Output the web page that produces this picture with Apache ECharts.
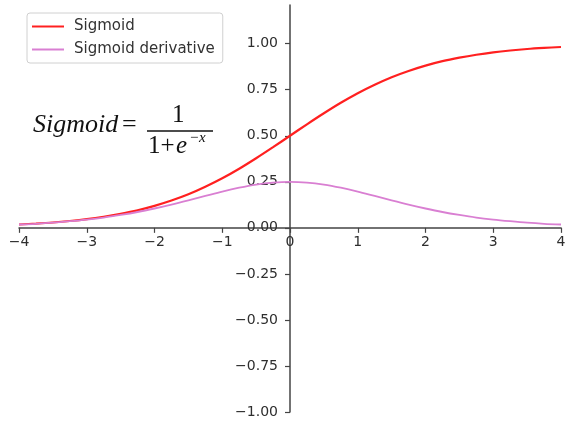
<!DOCTYPE html>
<html>
<head>
<meta charset="utf-8">
<script src="https://cdn.jsdelivr.net/npm/echarts@6/dist/echarts.min.js"></script>
<style>html,body{margin:0;padding:0;background:#fff;}#c{width:565px;height:422px;}</style>
</head>
<body>
<div id="c"></div>
<script>
const xValues = [-4,-3.75,-3.5,-3.25,-3,-2.75,-2.5,-2.25,-2,-1.75,-1.5,-1.25,-1,-0.75,-0.5,-0.25,0,0.25,0.5,0.75,1,1.25,1.5,1.75,2,2.25,2.5,2.75,3,3.25,3.5,3.75,4];
const sigmoidValues = [0.018,0.023,0.029,0.037,0.047,0.060,0.076,0.095,0.119,0.148,0.182,0.223,0.269,0.321,0.378,0.438,0.5,0.562,0.622,0.679,0.731,0.777,0.818,0.852,0.881,0.905,0.924,0.940,0.953,0.963,0.971,0.977,0.982];
const derivativeValues = [0.018,0.022,0.028,0.036,0.045,0.056,0.070,0.086,0.105,0.126,0.149,0.173,0.197,0.218,0.235,0.246,0.25,0.246,0.235,0.218,0.197,0.173,0.149,0.126,0.105,0.086,0.070,0.056,0.045,0.036,0.028,0.022,0.018];
const xTicks = [-4,-3,-2,-1,0,1,2,3,4];
const yTicks = [-1,-0.75,-0.5,-0.25,0,0.25,0.5,0.75,1];
const seriesNames = ['Sigmoid','Sigmoid derivative'];

const W = 565, H = 422;
const G = {left:19, right:4, top:5, bottom:10};
const X_MIN = -4, X_MAX = 4, Y_MIN = -1, Y_MAX = 1.21;
// place the spines through zero (matplotlib "centered" spines)
const plotW = W - G.left - G.right, plotH = H - G.top - G.bottom;
const xAxisOffset = -(plotH * (0 - Y_MIN) / (Y_MAX - Y_MIN));
const yAxisOffset = -(plotW * (0 - X_MIN) / (X_MAX - X_MIN));

const fmtMinus = s => s.replace('-', '\u2212');
const chart = echarts.init(document.getElementById('c'), null, {renderer:'canvas'});
const axisColor = '#444';
const labelStyle = {color:'#2e2e2e', fontSize:14, fontFamily:'DejaVu Sans'};
chart.setOption({
  animation:false,
  backgroundColor:'#fff',
  grid:{left:G.left, right:G.right, top:G.top, bottom:G.bottom, containLabel:false, outerBoundsMode:'none'},
  legend:{
    orient:'vertical', left:27, top:13,
    data:seriesNames,
    icon:'rect', itemWidth:32, itemHeight:2, itemGap:8,
    padding:[6,8,6,5],
    borderColor:'#d0d0d0', borderWidth:1, borderRadius:3,
    textStyle:{color:'#333', fontSize:15, fontFamily:'DejaVu Sans', padding:[0,0,0,5]}
  },
  xAxis:{
    type:'value', min:X_MIN, max:X_MAX, interval:1, position:'bottom', offset:xAxisOffset,
    axisLine:{onZero:false, lineStyle:{color:axisColor, width:1.5}},
    axisTick:{show:true, length:5, lineStyle:{color:axisColor, width:1.2}, customValues:xTicks},
    axisLabel:{...labelStyle, margin:8, customValues:xTicks, formatter:v=>fmtMinus(String(v))},
    splitLine:{show:false}
  },
  yAxis:{
    type:'value', min:Y_MIN, max:Y_MAX, position:'left', offset:yAxisOffset,
    axisLine:{show:true, onZero:false, lineStyle:{color:axisColor, width:1.5}},
    axisTick:{show:true, length:5, lineStyle:{color:axisColor, width:1.2}, customValues:yTicks},
    axisLabel:{...labelStyle, margin:12, customValues:yTicks, formatter:v=>fmtMinus(Number(v).toFixed(2))},
    splitLine:{show:false}
  },
  series:[
    {name:seriesNames[0], type:'line', symbol:'none', smooth:0.3, z:3,
     color:'#ff2020', lineStyle:{color:'#ff2020', width:2.2},
     data:xValues.map((x,i)=>[x, sigmoidValues[i]])},
    {name:seriesNames[1], type:'line', symbol:'none', smooth:0.3, z:4,
     color:'#d97fd2', lineStyle:{color:'#d97fd2', width:1.8},
     data:xValues.map((x,i)=>[x, derivativeValues[i]])}
  ],
  graphic:[
    {type:'text', left:33, top:112, style:{text:'Sigmoid', font:'italic 26px "Liberation Serif"', fill:'#111'}},
    {type:'text', left:122, top:112, style:{text:'=', font:'26px "Liberation Serif"', fill:'#111'}},
    {type:'line', shape:{x1:147, y1:131, x2:213, y2:131}, style:{stroke:'#111', lineWidth:1.6}},
    {type:'text', left:172, top:103, style:{text:'1', font:'25px "Liberation Serif"', fill:'#111'}},
    {type:'text', left:148, top:134, style:{text:'1+', font:'25px "Liberation Serif"', fill:'#111'}},
    {type:'text', left:176, top:134, style:{text:'e', font:'italic 25px "Liberation Serif"', fill:'#111'}},
    {type:'text', left:189, top:131, style:{text:'\u2212x', font:'italic 15px "Liberation Serif"', fill:'#111'}}
  ]
});
</script>
</body>
</html>
